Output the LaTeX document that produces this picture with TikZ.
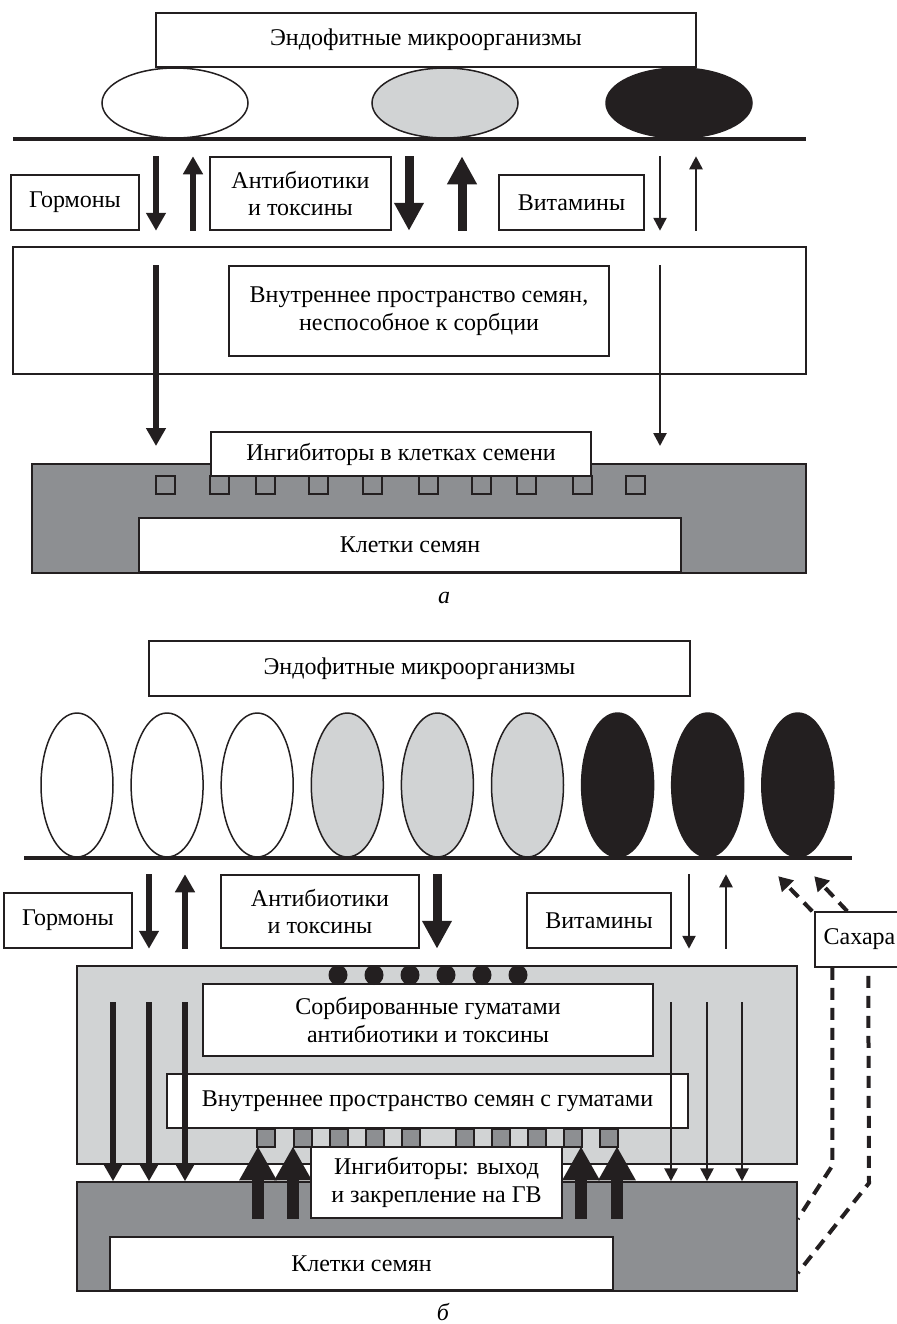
\documentclass[tikz,border=0pt]{standalone}
\usepackage{fontspec}
\setmainfont{Liberation Serif}
\usetikzlibrary{arrows.meta,fit}
\definecolor{cellgray}{HTML}{8D8F92}
\definecolor{humgray}{HTML}{D1D3D4}
\definecolor{inkblack}{HTML}{231F20}

\tikzset{
  labelbox/.style={draw=inkblack,fill=white,line width=0.75pt,inner sep=0pt,
    align=center,font=\fontsize{12}{13.9}\selectfont},
  boxdim/.style 2 args={minimum width=#1*0.5pt,minimum height=#2*0.5pt},
  plainbox/.style={draw=inkblack,line width=0.75pt},
  arrmid/.style={draw=inkblack,line width=3pt,-{Triangle[width=9.5pt,length=9pt]}},
  arrbig/.style={draw=inkblack,line width=4.5pt,-{Triangle[width=14pt,length=14pt]}},
  arrthin/.style={draw=inkblack,line width=1.3pt,-{Triangle[width=6.5pt,length=6.5pt]}},
  arrhuge/.style={draw=inkblack,line width=6pt,-{Triangle[width=17.5pt,length=17pt]}},
  sugarline/.style={draw=inkblack,line width=2pt,dash pattern=on 6pt off 4pt},
  sugararr/.style={sugarline,-{Triangle[width=8pt,length=7pt]}},
  panelmark/.style={font=\fontsize{12}{13.9}\selectfont\itshape}
}

\begin{document}
\begin{tikzpicture}[x=0.5pt,y=-0.5pt,line join=miter]
  \useasboundingbox (0,0) rectangle (896,1324);

  % ---- panel a ----
  \node[plainbox,inner sep=0pt,fit={(13,247) (806,374)}] (innerA) {};
  \node[labelbox,boxdim={380}{90}] (spaceA) at (419,311)
    {Внутреннее пространство семян,\\неспособное к сорбции};
  \node[plainbox,fill=cellgray,inner sep=0pt,fit={(32,464) (806,573)}] (cellsA) {};
  \node[labelbox,boxdim={542}{54}] (seedA) at (410,545) {Клетки семян};
  \foreach \sx in {156,210,256,309,363,419,472,517,573,626}
    \draw[plainbox] (\sx,476) rectangle ++(19,18);
  \node[labelbox,boxdim={380}{44}] (inhibA) at (401,454) {Ингибиторы в клетках семени};

  \node[labelbox,boxdim={540}{54}] (titleA) at (426,40) {Эндофитные микроорганизмы};
  \foreach \ex/\ecol in {175/white,445/humgray,679/inkblack}
    \draw[plainbox,fill=\ecol] (\ex,103) ellipse [x radius=73,y radius=35];
  \draw[inkblack,line width=2pt] (13,139) -- (806,139);

  \node[labelbox,boxdim={128}{55}] (hormA) at (75,202.5) {Гормоны};
  \node[labelbox,boxdim={181}{73}] (antiA) at (300.5,193.5) {Антибиотики\\и токсины};
  \node[labelbox,boxdim={145}{55}] (vitA) at (571.5,202.5) {Витамины};

  \foreach \ax/\st in {156/arrmid,409/arrbig,660/arrthin}
    \draw[\st] (\ax,0 |- antiA.north) -- (\ax,0 |- antiA.south);
  \foreach \ax/\st in {193/arrmid,462/arrbig,696/arrthin}
    \draw[\st] (\ax,0 |- antiA.south) -- (\ax,0 |- antiA.north);
  \draw[arrmid] (156,0 |- spaceA.north) -- (156,446);
  \draw[arrthin] (660,0 |- spaceA.north) -- (660,446);

  \node[panelmark] (markA) at (444,598) {а};

  % ---- panel b ----
  \node[plainbox,fill=humgray,inner sep=0pt,fit={(77,966) (797,1164)}] (humB) {};
  \node[plainbox,fill=cellgray,inner sep=0pt,fit={(77,1182) (797,1291)}] (darkB) {};
  \node[labelbox,boxdim={503}{53}] (seedB) at (361.5,1263.5) {Клетки семян};
  \node[labelbox,boxdim={450}{72}] (sorbB) at (428,1020)
    {Сорбированные гуматами\\антибиотики и токсины};
  \node[labelbox,boxdim={521}{54}] (spaceB) at (427.5,1101)
    {Внутреннее пространство семян с гуматами};
  \foreach \i in {0,...,5}
    \fill[inkblack] (338+36*\i,975) ellipse [x radius=9.5,y radius=10];
  \foreach \sx in {257,294,330,366,402,456,492,528,564,600}
    \draw[plainbox,fill=cellgray] (\sx,1129) rectangle ++(18,18);
  \node[labelbox,boxdim={251}{71}] (inhibB) at (436.5,1182.5)
    {Ингибиторы: выход\\и закрепление на ГВ};

  \foreach \ax in {113,149,185}
    \draw[arrmid] (\ax,1002) -- (\ax,0 |- darkB.north);
  \foreach \ax in {671,707,742}
    \draw[arrthin] (\ax,1002) -- (\ax,0 |- darkB.north);
  \foreach \ax in {258,293,581,617}
    \draw[arrhuge] (\ax,0 |- inhibB.south) -- (\ax,0 |- inhibB.north);

  \node[labelbox,boxdim={541}{55}] (titleB) at (419.5,668.5) {Эндофитные микроорганизмы};
  \foreach \i/\ecol in {0/white,1/white,2/white,3/humgray,4/humgray,5/humgray,
                        6/inkblack,7/inkblack,8/inkblack}
    \draw[plainbox,fill=\ecol] (77+90.1*\i,785) ellipse [x radius=36,y radius=72];
  \draw[inkblack,line width=2pt] (24,858) -- (852,858);

  \node[labelbox,boxdim={128}{55}] (hormB) at (68,920.5) {Гормоны};
  \node[labelbox,boxdim={198}{73}] (antiB) at (320,911.5) {Антибиотики\\и токсины};
  \node[labelbox,boxdim={144}{55}] (vitB) at (599,920.5) {Витамины};
  \node[labelbox,boxdim={89}{55}] (sugarB) at (859.5,939.5) {Сахара};

  \foreach \ax/\st in {149/arrmid,437/arrbig,689/arrthin}
    \draw[\st] (\ax,0 |- antiB.north) -- (\ax,0 |- antiB.south);
  \foreach \ax/\st in {185/arrmid,726/arrthin}
    \draw[\st] (\ax,0 |- antiB.south) -- (\ax,0 |- antiB.north);

  % sugars
  \draw[sugararr] ([xshift=-1pt]sugarB.north west) -- ++(-34,-35);
  \draw[sugararr] ([xshift=16.5pt]sugarB.north west) -- ++(-33,-35);
  \draw[sugarline] ([xshift=9pt]sugarB.south west) -- ++(0,198)
    -- (darkB.east |- 0,1219);
  \draw[sugarline] ([xshift=27pt,yshift=-4pt]sugarB.south west) -- (869,1183)
    -- (darkB.east |- 0,1273);

  \node[panelmark] (markB) at (443,1312) {б};
\end{tikzpicture}
\end{document}
